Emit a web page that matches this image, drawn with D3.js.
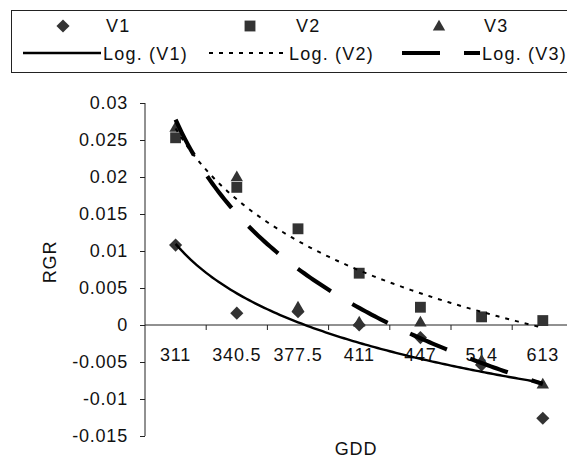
<!DOCTYPE html>
<html>
<head>
<meta charset="utf-8">
<script src="https://cdn.jsdelivr.net/npm/d3@7"></script>
<style>
  html, body { margin: 0; padding: 0; background: #fff; }
  svg { display: block; }
  text { font-family: "Liberation Sans", Arial, sans-serif; fill: #111; }
</style>
</head>
<body>
<svg id="chart" width="567" height="459"></svg>
<script>
// ---- data ----
const categories = ["311", "340.5", "377.5", "411", "447", "514", "613"];
const v1 = [0.0108, 0.0016, 0.0018, 0.0000, -0.0017, -0.0054, -0.0126];
const v2 = [0.0253, 0.0186, 0.0130, 0.0070, 0.0024, 0.0011, 0.0006];
const v3 = [0.0268, 0.0201, 0.0025, 0.0005, 0.0005, -0.0047, -0.0079];
const yTicks = [0.03, 0.025, 0.02, 0.015, 0.01, 0.005, 0, -0.005, -0.01, -0.015];
const yTickLabels = ["0.03", "0.025", "0.02", "0.015", "0.01", "0.005", "0", "-0.005", "-0.01", "-0.015"];
const seriesNames = ["V1", "V2", "V3"];
const trendNames = ["Log. (V1)", "Log. (V2)", "Log. (V3)"];

const svg = d3.select("#chart");
const FS = 18;
const LS = "0.8px";
const LS_LEG = "1.2px";
const markerColor = "#333";

// ---- scales ----
const x = d3.scaleBand().domain(categories).range([145, 573.4]).paddingInner(0).paddingOuter(0);
const y = d3.scaleLinear().domain([-0.015, 0.03]).range([436, 103]);
const cx = c => x(c) + x.bandwidth() / 2;

// ---- log trendline fit (Excel: y = a ln(i) + b, i = 1..n) ----
function logFit(vals) {
  const n = vals.length;
  const lx = vals.map((_, i) => Math.log(i + 1));
  const mx = d3.mean(lx), my = d3.mean(vals);
  let sxy = 0, sxx = 0;
  for (let i = 0; i < n; i++) { sxy += (lx[i] - mx) * (vals[i] - my); sxx += (lx[i] - mx) ** 2; }
  const a = sxy / sxx, b = my - a * mx;
  return t => a * Math.log(t) + b;
}
const idxScale = d3.scaleLinear().domain([1, categories.length]).range([cx(categories[0]), cx(categories[categories.length - 1])]);

// ---- axes ----
const yAxis = d3.axisLeft(y).tickValues(yTicks).tickFormat((d, i) => yTickLabels[i]).tickSize(5).tickPadding(12);
const gy = svg.append("g").attr("transform", "translate(145,0)").call(yAxis);
gy.select(".domain").attr("stroke", "#222").attr("d", "M0,103V436");
gy.selectAll(".tick line").attr("stroke", "#222");
gy.selectAll(".tick text").attr("font-size", FS).attr("letter-spacing", LS).attr("fill", "#111")
  .attr("font-family", "Liberation Sans, Arial, sans-serif");

// x axis at y = 0, ticks at category boundaries
const boundaries = categories.map(c => x(c) + x.bandwidth());
const gx = svg.append("g");
gx.append("line").attr("x1", 145).attr("x2", 573.4).attr("y1", y(0)).attr("y2", y(0)).attr("stroke", "#222");
gx.selectAll("line.tk").data(boundaries).join("line").attr("class", "tk")
  .attr("x1", d => d).attr("x2", d => d).attr("y1", y(0)).attr("y2", y(0) + 5).attr("stroke", "#222");
gx.selectAll("text").data(categories).join("text")
  .attr("x", d => cx(d)).attr("y", 361).attr("text-anchor", "middle")
  .attr("font-size", FS).attr("letter-spacing", LS).text(d => d);

// axis titles
svg.append("text").attr("x", 356).attr("y", 455).attr("text-anchor", "middle")
  .attr("font-size", FS).attr("letter-spacing", LS).text("GDD");
svg.append("text").attr("transform", "translate(56,262) rotate(-90)").attr("text-anchor", "middle")
  .attr("font-size", FS).attr("letter-spacing", LS).text("RGR");

// ---- markers ----
const sym = {
  V1: d3.symbol().type(d3.symbolDiamond2).size(110),
  V2: d3.symbol().type(d3.symbolSquare2).size(150),
  V3: d3.symbol().type(d3.symbolTriangle2).size(110)
};
const seriesData = [v1, v2, v3];
const mg = svg.append("g");
seriesData.forEach((vals, si) => {
  const name = seriesNames[si];
  mg.selectAll("path.s" + si).data(vals).join("path").attr("class", "s" + si)
    .attr("transform", (d, i) => `translate(${cx(categories[i])},${y(d) + (name === "V3" ? 1.5 : 0)})`)
    .attr("d", sym[name]()).attr("fill", markerColor);
});

// ---- trendlines ----
const trendStyles = [
  { w: 2.4, dash: null },
  { w: 2, dash: "4,6" },
  { w: 4.2, dash: "40,25" }
];
const line = d3.line().x(d => idxScale(d[0])).y(d => y(d[1]));
seriesData.forEach((vals, si) => {
  const f = logFit(vals);
  const pts = d3.range(1, categories.length + 0.001, 0.05).map(t => [t, f(t)]);
  svg.append("path").datum(pts).attr("d", line).attr("fill", "none")
    .attr("stroke", "#000").attr("stroke-width", trendStyles[si].w)
    .attr("stroke-dasharray", trendStyles[si].dash);
});

// ---- legend ----
const lg = svg.append("g");
lg.append("rect").attr("x", 11.5).attr("y", 10.5).attr("width", 570).attr("height", 62)
  .attr("fill", "none").attr("stroke", "#222");
const legMarkX = [63, 250, 439];
const legTextX = [106, 296, 484];
seriesNames.forEach((n, i) => {
  lg.append("path").attr("transform", `translate(${legMarkX[i]},${n === "V3" ? 27 : 26})`)
    .attr("d", sym[n]()).attr("fill", markerColor);
  lg.append("text").attr("x", legTextX[i]).attr("y", 32).attr("font-size", FS).attr("letter-spacing", LS_LEG).text(n);
});
const legLineX = [23, 209, 402];
trendNames.forEach((n, i) => {
  lg.append("line").attr("x1", legLineX[i]).attr("x2", legLineX[i] + 78).attr("y1", 53).attr("y2", 53)
    .attr("stroke", "#000").attr("stroke-width", trendStyles[i].w)
    .attr("stroke-dasharray", i === 2 ? "38,24" : trendStyles[i].dash);
  lg.append("text").attr("x", legLineX[i] + 80).attr("y", 60).attr("font-size", FS).attr("letter-spacing", LS_LEG).text(n);
});
</script>
</body>
</html>
